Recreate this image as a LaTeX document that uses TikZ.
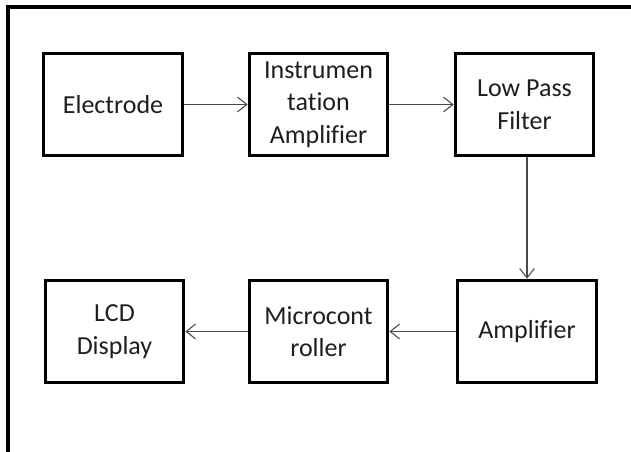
\documentclass[tikz,border=0pt]{standalone}
\usepackage{fontspec}
\setmainfont{Carlito}[Ligatures=NoCommon]
\usepackage{tikz}
\usetikzlibrary{arrows.meta, positioning}
\definecolor{mText}{HTML}{1E1E1E}
\definecolor{mArrow}{HTML}{4A4A4A}

\begin{document}
\begin{tikzpicture}[x=0.75pt, y=-0.75pt,
      bx/.style={draw, line width=2.2pt, minimum width=104pt, minimum height=77pt,
        inner sep=0pt, align=center, text=mText,
        font=\fontsize{19.5pt}{24.5pt}\selectfont},
      conn/.style={draw=mArrow, line width=0.8pt, -{Straight Barb[length=7pt, width=11pt]}},
      frame/.style={line width=2.4pt}]
    \useasboundingbox (0,0) rectangle (631,452);
    \draw[frame] (8,452) -- (8,7) -- (631,7);
    % top row
    \node[bx] (elec)  at (113,104.5)   {Electrode};
    \node[bx] (inamp) at (318.5,104.5) {Instrumen\\tation\\Amplifier};
    \node[bx] (lpf)   at (524.5,104.5) {Low Pass\\Filter};
    % bottom row
    \node[bx] (lcd) at (114.5,331.5) {LCD\\Display};
    \node[bx] (mcu) at (318.5,331.5) {Microcont\\roller};
    \node[bx] (amp) at (527,331.5)   {Amplifier};
    \draw[conn] (elec) -- (inamp);
    \draw[conn] (inamp) -- (lpf);
    \draw[conn] (amp.north |- lpf.south) -- (amp.north);
    \draw[conn] (amp) -- (mcu);
    \draw[conn] (mcu) -- (lcd);
  \end{tikzpicture}
\end{document}
